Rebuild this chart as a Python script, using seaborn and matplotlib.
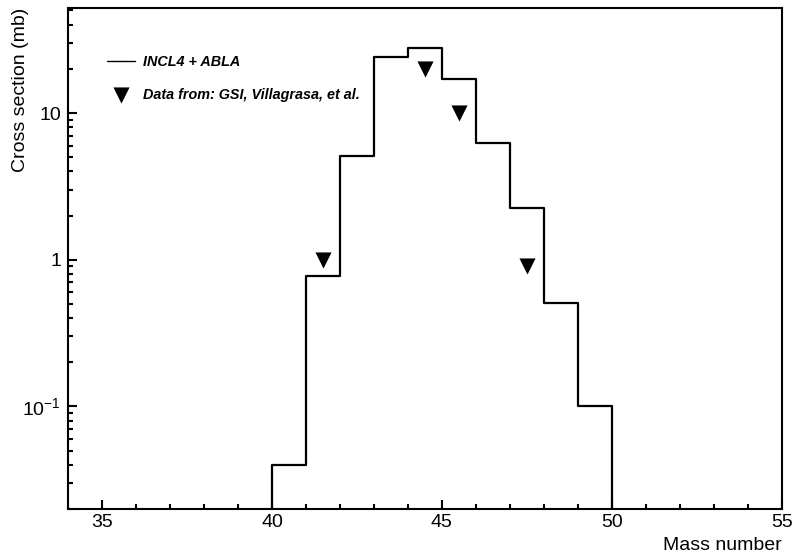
import numpy as np
import pandas as pd
import matplotlib
matplotlib.use("Agg")
import matplotlib.pyplot as plt
from matplotlib.ticker import FixedLocator, FixedFormatter, LogLocator, NullFormatter, MultipleLocator
import seaborn as sns

# INCL4 + ABLA histogram, 1-unit bins in mass number over the full x range
bin_edges = list(range(34, 56))
mass_centers = [34.5, 35.5, 36.5, 37.5, 38.5, 39.5, 40.5, 41.5, 42.5, 43.5, 44.5,
                45.5, 46.5, 47.5, 48.5, 49.5, 50.5, 51.5, 52.5, 53.5, 54.5]
incl4_abla = [0, 0, 0, 0, 0, 0, 0.04, 0.78, 5.1, 24.2, 27.8,
              17.1, 6.2, 2.25, 0.51, 0.10, 0, 0, 0, 0, 0]

# GSI data points (Villagrasa et al.)
data_mass = [41.5, 44.5, 45.5, 47.5]
data_xsec = [1.0, 20.0, 10.0, 0.9]

model = pd.DataFrame({"mass": mass_centers, "xsec": incl4_abla})

sns.set_theme(style="ticks")
plt.rcParams['font.family'] = ['Liberation Sans', 'DejaVu Sans']
plt.rcParams['mathtext.fontset'] = 'custom'
plt.rcParams['mathtext.rm'] = 'Liberation Sans'
plt.rcParams['mathtext.it'] = 'Liberation Sans:italic'
plt.rcParams['text.color'] = 'black'
plt.rcParams['axes.labelcolor'] = 'black'

fig = plt.figure(figsize=(7.95, 5.55), dpi=100)
ax = fig.add_axes([0.0855, 0.0829, 0.898, 0.9027])

sns.histplot(data=model, x="mass", weights="xsec", bins=bin_edges, element="step",
             fill=False, color="black", linewidth=1.6, label="INCL4 + ABLA", ax=ax)
sns.scatterplot(x=data_mass, y=data_xsec, marker="v", s=135, color="black",
                edgecolor="black", linewidth=0, label="Data from: GSI, Villagrasa, et al.", ax=ax)

ax.set_yscale("log")
ax.set_xlim(34, 55)
ax.set_ylim(0.02, 52)

ax.xaxis.set_major_locator(MultipleLocator(5))
ax.xaxis.set_minor_locator(MultipleLocator(1))
ax.yaxis.set_major_locator(FixedLocator([0.1, 1, 10]))
ax.yaxis.set_major_formatter(FixedFormatter(["$10^{-1}$", "1", "10"]))
ax.yaxis.set_minor_locator(LogLocator(base=10, subs=np.arange(2, 10)))
ax.yaxis.set_minor_formatter(NullFormatter())

ax.tick_params(which="both", direction="in", top=False, right=False, width=1.5,
               labelsize=14, colors="black")
ax.tick_params(which="major", length=6.5, pad=3.5)
ax.tick_params(which="minor", length=3.5)
ax.tick_params(axis="y", which="major", pad=5)

for sp in ax.spines.values():
    sp.set_linewidth(1.5)
    sp.set_color("black")

ax.set_xlabel("Mass number", fontsize=14, loc="right", color="black")
ax.set_ylabel("Cross section (mb)", fontsize=14, loc="top", color="black")
ax.xaxis.set_label_coords(1.0, -0.056)
ax.yaxis.set_label_coords(-0.054, 1.0)

leg = ax.legend(loc="upper left", bbox_to_anchor=(0.045, 0.92), frameon=False,
                prop={"family": "Liberation Sans", "weight": "bold", "style": "italic", "size": 10.4},
                handlelength=1.95, handletextpad=0.55, labelspacing=1.3, borderpad=0)
leg.get_lines()[0].set_linewidth(1.0)
for t in leg.get_texts():
    t.set_color("black")

fig.savefig("out.png", dpi=100)
